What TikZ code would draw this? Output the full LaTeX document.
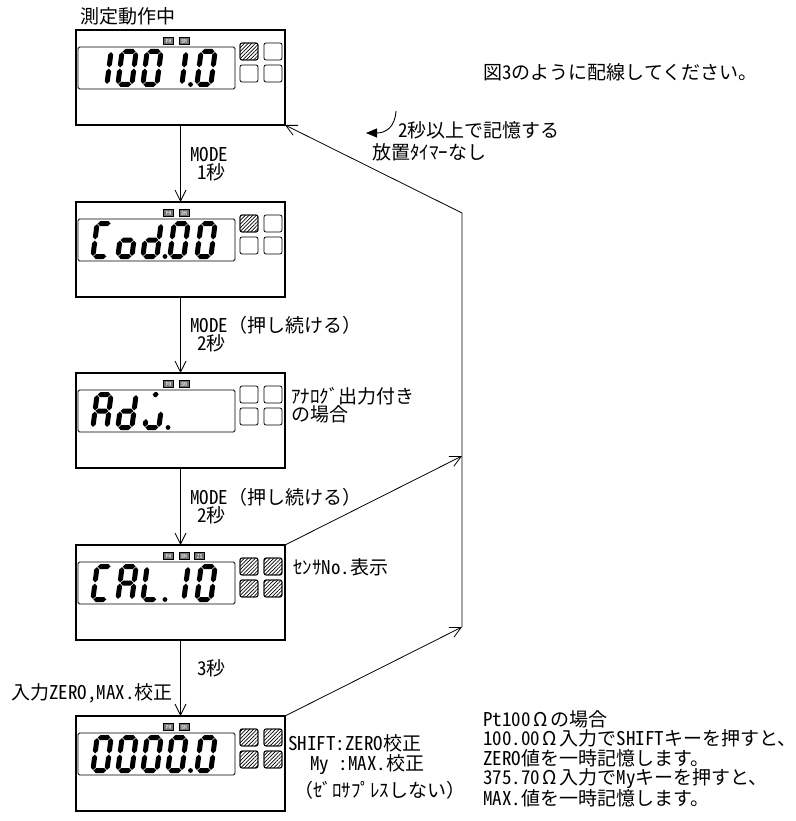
\documentclass[tikz,border=0pt]{standalone}
\usepackage{fontspec}
\setmainfont{Noto Sans CJK JP}
\newfontfamily\hw{Noto Sans CJK JP}[RawFeature=+hwid]
\usetikzlibrary{arrows.meta,patterns.meta}

\tikzset{
  panel/.style={draw, line width=1.3pt, minimum width=209pt, minimum height=95pt, inner sep=0pt, outer sep=0pt},
  lcd/.style={line width=0.9pt, rounded corners=1.5pt},
  key/.style={line width=0.8pt, rounded corners=2pt},
  hatch/.style={pattern={Lines[angle=45,distance=2.6pt,line width=0.7pt]}},
  lamp/.style={draw, fill=black!55, line width=0.5pt, minimum width=10pt, minimum height=7pt, inner sep=0pt, text=white, font=\fontsize{5.5}{5.5}\selectfont\hw},
  flow/.style={line width=0.8pt, -{Straight Barb[length=11pt,width=11pt]}},
  lbl/.style={anchor=west, inner sep=0pt},
  hseg/.style={insert path={(-6.4,#1) -- ++(2.5,-2.5) -- ++(7.8,0) -- ++(2.5,2.5) -- ++(-2.5,2.5) -- ++(-7.8,0) -- cycle}},
  vseg/.style 2 args={insert path={(#1,#2) -- ++(2.5,2.5) -- ++(0,10.3) -- ++(-2.5,2.5) -- ++(-2.5,-2.5) -- ++(0,-10.3) -- cycle}},
  segA/.style={hseg=-16.5}, segG/.style={hseg=0}, segD/.style={hseg=16.5},
  segF/.style={vseg={-7}{-15.9}}, segB/.style={vseg={7}{-15.9}},
  segE/.style={vseg={-7}{0.6}}, segC/.style={vseg={7}{0.6}},
  segJ/.style={insert path={(-3.5,-16.5) -- ++(2,-2.5) -- ++(2,0) -- ++(2,2.5) -- ++(-2,2.5) -- ++(-2,0) -- cycle}},
  segK/.style={insert path={(-7,8) -- ++(2.5,2.5) -- ++(0,2.9) -- ++(-2.5,2.5) -- ++(-2.5,-2.5) -- ++(0,-2.9) -- cycle}},
}

\newcommand{\lcdchar}[3]{%
  \edef\seglist{#3}%
  \begin{scope}[shift={(#1,#2)}, xslant=0.13]
    \foreach \q in \seglist \fill[seg\q];
  \end{scope}}
\newcommand{\ohm}{\kern2.5pt Ω\kern2.5pt}

\begin{document}
\begin{tikzpicture}[x=1pt, y=-1pt, font=\fontsize{19}{19.5}\selectfont]
\useasboundingbox (0,0) rectangle (795,821);

\foreach \i/\y in {1/30,2/202,3/373,4/545,5/716} {
  \node[panel] (b\i) at (180.5,\y+47.5) {};
  \draw[lcd] (78,\y+17) rectangle (235,\y+59);
  \foreach \kx/\ky in {240/13,264/13,240/35,264/35}
    \draw[key] (\kx,\y+\ky) rectangle ++(18,17);
  \node[lamp] (pm\i) at (168.5,\y+11) {PM};
  \node[lamp] (bm\i) at (184,\y+11) {BM};
}
\node[lamp] (zs4) at (199.5,556) {ZS};

\draw[key, hatch] (240,43) rectangle ++(18,17);
\draw[key, hatch] (240,215) rectangle ++(18,17);
\foreach \y in {545,716}
  \foreach \kx/\ky in {240/13,264/13,240/35,264/35}
    \draw[key, hatch] (\kx,\y+\ky) rectangle ++(18,17);

\foreach \x/\g in {102/{B,C}, 127/{A,B,C,D,E,F}, 152/{A,B,C,D,E,F}, 177/{B,C}, 206/{A,B,C,D,E,F}}
  \lcdchar{\x}{68}{\g};
\fill (190.5,84.5) circle[radius=2.4pt];

\foreach \x/\g in {102/{A,D,E,F}, 127/{C,D,E,G}, 152/{B,C,D,E,G}, 179/{A,B,C,D,E,F}, 206/{A,B,C,D,E,F}}
  \lcdchar{\x}{240}{\g};
\fill (165,256.5) circle[radius=2.4pt];

\foreach \x/\g in {102/{A,B,C,E,F,G}, 127/{B,C,D,E,G}, 154/{J,C,D,K}}
  \lcdchar{\x}{411}{\g};
\fill (168,427.5) circle[radius=2.4pt];

\foreach \x/\g in {102/{A,D,E,F}, 127/{A,B,C,E,F,G}, 152/{D,E,F}, 179/{B,C}, 206/{A,B,C,D,E,F}}
  \lcdchar{\x}{583}{\g};
\fill (165,599.5) circle[radius=2.4pt];

\foreach \x in {102,127,152,177,206}
  \lcdchar{\x}{754}{A,B,C,D,E,F};
\fill (190.5,770.5) circle[radius=2.4pt];

\foreach \i/\j in {1/2,2/3,3/4,4/5}
  \draw[flow] (b\i.south) -- (b\j.north);
\coordinate (rtop) at (462,213);
\coordinate (r4) at (462,456);
\coordinate (r5) at (462,627);
\draw[flow] (b4.north east) -- (r4);
\draw[flow] (b5.north east) -- (r5);
\draw[flow] (r5) -- (rtop) -- (b1.south east);

\coordinate (hk1) at (396,111);
\coordinate (hk2) at (366,133);
\draw[line width=0.9pt, -{Triangle[length=11pt,width=9pt]}] (hk1) .. controls (395,127) and (386,133) .. (hk2);

\node[lbl] (title) at (80,16) {測定動作中};
\node[lbl] (wire) at (483,72) {図{\hw 3}のように配線してください。};
\node[lbl] (hold) at (398,130) {{\hw 2}秒以上で記憶する};
\node[lbl] (timer) at (372,152) {放置ﾀｲﾏｰなし};
\node[lbl] (m1) at (190,155) {{\hw MODE}};
\node[lbl] (s1) at (197,172) {{\hw 1}秒};
\node[lbl] (m2) at (190,325) {{\hw MODE}（押し続ける）};
\node[lbl] (s2) at (197,343) {{\hw 2}秒};
\node[lbl] (ana) at (291,396) {ｱﾅﾛｸﾞ出力付き};
\node[lbl] (ana2) at (291,414) {の場合};
\node[lbl] (m3) at (190,497) {{\hw MODE}（押し続ける）};
\node[lbl] (s3) at (197,515) {{\hw 2}秒};
\node[lbl] (sen) at (293,567) {ｾﾝｻ{\hw No.}表示};
\node[lbl] (s4) at (197,668) {{\hw 3}秒};
\node[anchor=east, inner sep=0pt] (cal) at (173,693) {入力{\hw ZERO,MAX.}校正};
\node[lbl] (sh) at (288,743) {{\hw SHIFT:ZERO}校正};
\node[lbl] (my) at (310,765) {{\hw My :MAX.}校正};
\node[lbl] (zs) at (294,790) {（ｾﾞﾛｻﾌﾟﾚｽしない）};
\node[anchor=north west, inner sep=0pt, align=left] (note) at (483,710)
  {{\hw Pt100}\ohm の場合\\
   {\hw 100.00}\ohm 入力で{\hw SHIFT}キーを押すと、\\
   {\hw ZERO}値を一時記憶します。\\
   {\hw 375.70}\ohm 入力で{\hw My}キーを押すと、\\
   {\hw MAX.}値を一時記憶します。};
\end{tikzpicture}
\end{document}
